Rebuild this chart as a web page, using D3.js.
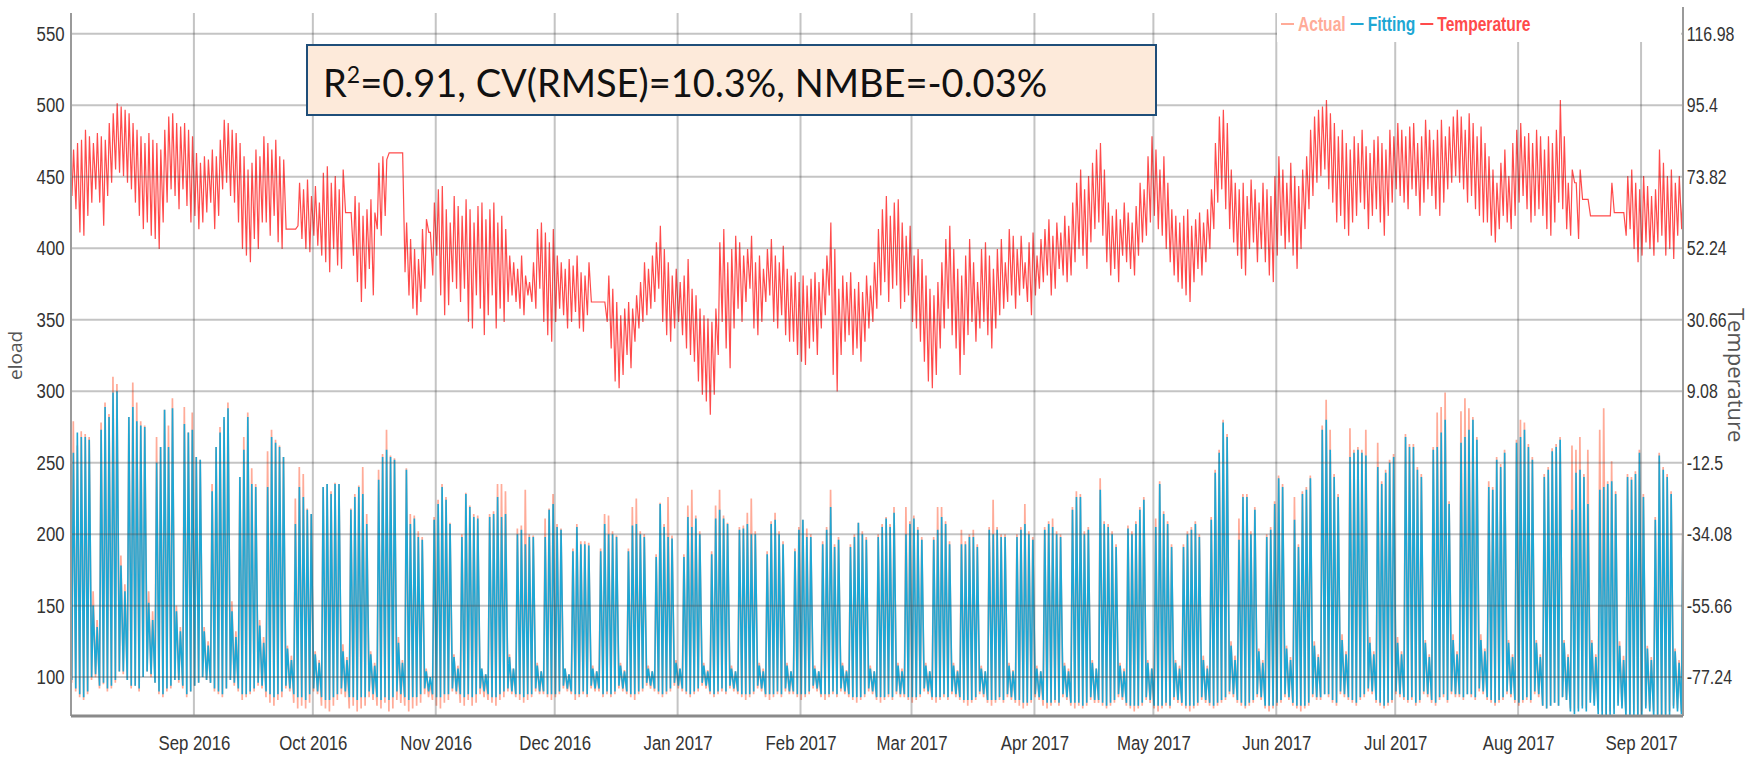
<!DOCTYPE html>
<html>
<head>
<meta charset="utf-8">
<script src="https://cdn.jsdelivr.net/npm/d3@7"></script>
<style>
  body { margin: 0; background: #fff; }
  .narrow { font-family: "Liberation Sans", Arial, sans-serif; }
</style>
</head>
<body>
<svg id="chart" width="1752" height="759"></svg>
<script>
// one value per day, starting Mon 1 Aug 2016, one row per week (Mon..Sun)
const startDay = new Date(2016, 7, 1);
const endTime = new Date(2017, 8, 11, 14);

const monthTicks = ["2016-09-01","2016-10-01","2016-11-01","2016-12-01","2017-01-01","2017-02-01",
  "2017-03-01","2017-04-01","2017-05-01","2017-06-01","2017-07-01","2017-08-01","2017-09-01"];
const loadTicks = [100, 150, 200, 250, 300, 350, 400, 450, 500, 550];
const tempTicks = [116.98, 95.4, 73.82, 52.24, 30.66, 9.08, -12.5, -34.08, -55.66, -77.24];

const actualPeak = [
  279,262,272,270,268,160,140, 278,292,284,310,305,185,165, 282,306,292,279,276,160,146,
  268,261,287,276,295,150,135, 289,271,285,254,252,135,125, 235,261,275,280,292,153,132,
  240,268,285,246,235,140,128, 258,273,266,262,254,122,115, 225,247,242,218,214,118,112,
  233,235,230,236,235,123,114, 218,228,234,247,214,118,110, 245,256,273,255,253,128,112,
  246,214,213,202,198,106,97,  212,224,235,226,208,116,108, 200,229,220,214,213,106,102,
  214,216,235,235,230,116,106, 204,206,231,200,199,110,104, 211,218,228,207,204,106,102,
  190,207,195,195,194,108,104, 190,214,213,202,199,110,105, 190,219,225,202,200,108,104,
  186,222,207,226,199,112,106, 186,220,231,213,202,110,105, 188,220,231,213,208,108,104,
  205,206,215,225,202,110,106, 188,209,215,202,195,110,104, 190,205,210,204,200,108,104,
  195,205,231,193,198,110,105, 193,200,208,202,198,108,104, 200,207,212,207,219,110,106,
  219,209,213,205,198,110,104, 198,219,219,209,195,110,105, 203,195,200,203,193,108,104,
  205,224,205,200,200,110,105, 200,205,221,202,198,108,104, 205,209,211,202,200,110,106,
  219,230,228,202,205,112,106, 239,209,207,202,193,110,106, 206,202,209,219,226,112,106,
  211,237,216,209,193,112,108, 193,202,205,209,200,115,108, 212,245,259,280,270,125,115,
  211,228,228,202,219,120,112, 200,205,223,241,235,122,114, 226,193,230,233,241,125,116,
  276,294,273,242,228,130,118, 274,259,261,259,273,128,118, 264,237,245,252,256,128,118,
  270,263,263,247,242,126,116, 261,285,289,299,223,130,118, 286,295,288,282,268,130,120,
  237,233,254,249,259,126,116, 266,280,278,263,254,126,116, 242,247,260,263,268,126,116,
  262,259,268,242,259,126,116, 273,288,237,251,230,125,115, 242,240,244,259,228,122,114,
  212,257,247,242,230,120,112, 233
];

const fitPeak = [
  257,271,268,268,266,150,135, 273,289,282,299,300,178,160, 282,289,279,276,275,152,140,
  250,261,287,261,288,146,132, 277,271,273,254,252,132,122, 230,261,271,282,288,146,128,
  240,259,282,235,233,136,124, 233,268,264,261,254,120,112, 207,233,226,217,214,116,110,
  233,235,228,235,235,118,112, 217,226,233,228,207,116,108, 238,254,259,254,252,124,110,
  245,207,211,198,196,104,100, 210,221,233,224,207,114,106, 198,228,219,212,211,106,102,
  212,214,226,212,214,114,106, 200,203,193,198,198,108,104, 198,217,221,205,203,106,102,
  188,205,193,193,192,106,104, 188,207,200,200,198,108,104, 188,206,207,200,198,106,104,
  184,221,205,198,197,110,106, 184,212,205,211,200,108,104, 186,211,217,211,207,106,104,
  203,204,207,200,200,108,104, 186,207,210,200,193,108,104, 188,203,210,198,198,106,104,
  193,203,219,191,196,108,104, 191,198,208,200,196,106,104, 198,205,211,205,215,108,104,
  200,207,211,203,196,108,104, 196,203,212,207,193,108,104, 193,193,198,198,191,106,104,
  203,200,203,198,198,108,104, 198,203,207,200,196,106,104, 203,207,205,200,198,108,104,
  217,226,226,200,203,110,106, 231,207,205,200,191,108,104, 204,200,207,217,224,110,106,
  205,235,214,207,191,110,106, 191,200,203,207,198,112,106, 210,243,257,278,268,122,112,
  196,226,226,200,217,118,110, 198,203,221,239,233,120,112, 210,191,228,231,239,122,114,
  273,280,259,240,226,126,116, 254,257,259,257,255,124,116, 247,235,243,250,254,124,116,
  268,261,261,245,240,124,114, 259,261,271,280,221,126,116, 264,268,273,280,266,126,118,
  233,231,252,247,257,124,114, 264,268,273,261,252,124,114, 240,245,258,261,266,124,114,
  217,243,245,240,221,124,114, 231,233,235,237,228,122,112, 240,238,242,257,226,120,112,
  210,255,245,240,228,118,110, 231
];

const actualLow = [
  96,90,86,84,88,98,100, 92,95,90,92,96,104,102, 98,92,94,90,100,104,100, 96,88,86,90,92,98,96,
  92,86,90,94,96,100,98, 96,90,88,86,92,98,94, 90,84,86,88,90,94,92, 86,82,80,84,86,92,90,
  82,78,80,78,82,90,88, 80,78,76,80,84,88,86, 78,80,76,78,80,86,84, 80,78,82,76,78,84,82,
  80,76,78,80,82,88,86, 84,80,78,82,84,90,88, 82,80,84,80,82,88,86, 84,82,80,84,86,90,88,
  86,84,82,84,86,90,88, 88,86,84,86,88,92,90, 88,84,86,88,86,92,90, 90,86,88,86,88,92,90,
  88,86,84,88,90,94,92, 90,88,86,88,90,94,92, 90,88,86,88,90,94,92, 88,86,88,90,88,92,90,
  88,86,84,86,88,92,90, 86,84,86,88,86,90,88, 88,86,84,86,88,92,90, 86,84,86,88,86,90,88,
  86,84,82,84,86,90,88, 84,82,84,86,84,88,86, 86,84,82,84,86,90,88, 84,82,84,86,84,88,86,
  84,82,80,82,84,88,86, 82,80,82,84,82,86,84, 82,80,78,80,82,86,84, 80,78,80,82,80,86,84,
  80,78,80,78,80,84,82, 82,80,78,80,82,86,84, 80,78,76,78,80,84,82, 78,76,78,80,78,84,82,
  80,78,76,78,80,84,82, 80,78,80,82,84,88,86, 82,80,78,80,82,86,84, 78,76,78,80,82,86,84,
  80,78,76,78,80,86,84, 84,88,86,82,80,88,86, 84,82,80,84,86,90,88, 82,80,78,80,82,88,86,
  84,82,84,80,82,88,86, 82,80,84,86,82,88,86, 86,84,88,86,84,90,88, 84,82,80,82,84,88,86,
  82,80,82,84,82,88,86, 80,78,80,82,80,86,84, 78,76,78,80,78,84,82, 78,76,74,76,78,82,80,
  76,74,76,74,76,80,78, 76,74,72,74,76,80,78, 76
];

const fitLow = [
  98,92,88,86,90,100,102, 94,96,92,94,98,104,104, 98,94,94,92,100,104,102, 96,90,88,92,94,98,98,
  94,88,90,94,96,100,98, 96,92,90,88,92,98,96, 92,88,88,90,92,96,94, 90,88,86,88,90,94,92,
  88,86,86,84,88,92,90, 86,84,84,86,88,92,90, 86,86,84,86,86,90,88, 86,84,86,84,86,90,88,
  86,84,86,86,88,92,90, 88,86,86,88,88,92,90, 88,86,88,86,88,92,90, 88,86,86,88,90,92,90,
  88,88,86,88,88,92,90, 90,88,88,88,90,94,92, 90,88,88,90,88,94,92, 92,88,90,88,90,94,92,
  90,88,88,90,92,96,94, 92,90,88,90,92,96,94, 92,90,88,90,92,96,94, 90,88,90,92,90,94,92,
  90,88,88,88,90,94,92, 88,88,88,90,88,92,90, 90,88,88,88,90,94,92, 88,88,88,90,88,92,90,
  88,86,86,86,88,92,90, 86,86,86,88,86,90,88, 88,86,86,86,88,92,90, 86,86,86,88,86,90,88,
  86,84,84,84,86,90,88, 84,84,84,86,84,88,86, 84,84,82,82,84,88,86, 84,82,82,84,82,88,86,
  82,82,82,80,82,86,84, 84,82,80,82,84,88,86, 82,80,80,80,82,86,84, 80,80,80,82,80,86,84,
  82,80,80,80,82,86,84, 82,80,82,84,86,90,88, 84,82,80,82,84,88,86, 80,80,80,82,84,88,86,
  82,80,80,80,82,88,86, 86,88,88,84,82,90,88, 86,84,82,86,88,92,90, 84,82,80,82,84,90,88,
  86,84,86,82,84,90,88, 84,82,86,88,84,90,88, 88,86,88,88,86,92,90, 86,84,82,84,86,90,88,
  84,82,84,86,84,90,88, 80,78,80,82,80,86,84, 76,74,76,78,76,82,80, 74,72,70,72,74,80,78,
  72,70,72,70,72,78,76, 72,70,68,70,72,78,76, 74
];

const tempHigh = [
  82,84,85,88,86,84,87, 86,85,90,93,96,95,94, 93,90,88,86,84,87,85, 84,82,88,92,93,90,89,
  90,88,86,81,78,80,79, 82,80,85,91,90,88,87, 84,80,76,78,82,80,86, 84,82,85,80,79,58,58,
  58,72,70,73,68,71,66, 75,77,72,74,70,76,63, 63,68,66,62,64,67,63, 78,80,79,81,81,81,81,
  60,55,52,49,58,61,57, 66,70,71,64,60,68,65, 62,67,64,60,65,66,61, 64,66,60,62,58,50,48,
  46,50,44,42,48,58,60, 57,54,58,50,48,46,49, 47,50,45,44,48,36,36, 36,36,44,40,36,32,34,
  36,34,38,42,48,46,50, 54,59,52,48,44,46,42, 44,49,40,38,34,32,31, 30,34,54,58,48,52,56,
  54,50,52,56,48,50,46, 52,55,50,48,53,46,44, 45,42,44,41,43,45,42, 46,50,60,52,40,44,42,
  45,40,42,39,44,41,48, 58,64,68,62,66,67,60, 56,59,50,52,49,44,40, 38,42,48,55,59,52,46,
  44,50,55,48,42,52,54, 50,46,52,55,48,58,56, 52,56,48,54,57,50,55, 58,61,56,60,57,62,59,
  66,72,76,70,74,78,82, 84,76,66,62,64,61,66, 63,60,65,72,70,80,86, 82,76,80,72,64,62,60,
  62,64,59,61,63,60,64, 70,84,92,94,90,76,72, 70,72,68,73,70,66,72, 70,68,74,80,76,72,78,
  74,71,76,80,88,92,94, 95,97,93,90,86,88,84, 82,86,84,88,83,81,85, 86,84,82,88,86,90,88,
  86,89,90,84,86,91,88, 85,88,91,86,89,92,94, 92,88,93,90,86,89,84, 80,76,72,78,82,74,84,
  88,90,86,87,84,88,86, 82,86,84,88,97,86,72, 76,72,76,67,67,62,62, 62,62,62,72,63,63,63,
  74,76,72,70,74,71,68, 70,82,78,74,76,72,74, 72
];

const tempLow = [
  68,64,57,56,62,66,70, 66,59,68,72,76,75,74, 72,70,66,62,58,60,56, 55,52,60,66,70,68,64,
  70,65,60,62,58,60,63, 66,58,62,70,72,68,66, 60,52,50,48,55,52,60, 60,56,62,54,52,58,58,
  58,59,55,52,51,56,53, 50,48,45,52,47,46,63, 63,50,42,36,40,46,38, 58,56,62,81,81,81,81,
  45,38,34,32,36,40,57, 44,50,38,32,35,42,40, 36,40,30,28,38,34,26, 32,38,28,34,30,36,38,
  36,34,32,38,36,34,40, 30,26,24,30,34,32,28, 30,33,28,27,32,36,36, 36,36,30,22,12,10,14,
  20,16,24,28,30,32,34, 36,40,30,26,24,28,30, 26,22,20,18,12,8,6,   2,8,20,30,22,16,28,
  34,30,36,40,28,26,30, 36,38,30,28,32,26,24, 24,20,18,17,22,24,20, 28,32,38,14,9,20,24,
  26,20,22,18,24,28,30, 34,38,42,36,40,41,34, 36,38,30,28,24,18,12, 10,14,22,28,34,26,22,
  14,20,26,30,24,28,30, 26,22,28,32,34,36,38, 34,38,40,36,32,38,40, 42,44,38,40,46,44,42,
  44,48,52,50,46,54,58, 60,56,48,44,46,42,50, 48,46,44,50,54,56,60, 62,58,56,52,48,44,42,
  40,38,36,42,46,44,48, 52,58,66,70,64,58,54, 50,46,44,52,54,48,52, 48,44,42,50,56,52,54,
  50,46,52,58,64,68,72, 74,76,70,66,60,62,58, 56,60,62,66,64,58,62, 64,60,56,62,66,70,68,
  66,64,70,68,62,66,70, 68,64,62,66,70,72,74, 72,70,66,68,64,62,60, 60,56,54,58,62,60,58,
  62,66,68,64,60,62,64, 62,58,56,60,66,64,58, 56,72,55,67,67,62,62, 62,62,62,62,63,63,63,
  56,58,52,48,50,54,52, 50,54,56,50,52,49,56, 58
];

const seriesColors = { actual: "#ffab98", fitting: "#1ea7d4", temperature: "#ff4b4b" };
const legendItems = [
  { name: "Actual", color: seriesColors.actual },
  { name: "Fitting", color: seriesColors.fitting },
  { name: "Temperature", color: seriesColors.temperature }
];

// the original uses a condensed face; squeeze a regular one instead
const squeeze = 0.8;

function drawChart() {
  const svg = d3.select("#chart");
  const plot = { left: 71, right: 1683, top: 13, bottom: 715 };

  const x = d3.scaleTime().domain([startDay, endTime]).range([plot.left, plot.right]);
  const y = d3.scaleLinear().domain([73.5, 564.5]).range([plot.bottom, plot.top]);
  // right axis is a linear re-labelling of the left one
  const loadToTemp = v => 116.98 - (550 - v) * 21.58 / 50;
  const yTemp = d3.scaleLinear()
    .domain([loadToTemp(73.5), loadToTemp(564.5)])
    .range([plot.bottom, plot.top]);

  const dayTime = (i, frac) => new Date(startDay.getTime() + (i + frac) * 864e5);

  // daily low/high pairs -> zigzag points
  function zigzag(lows, highs, lowAt, highAt) {
    const pts = [];
    lows.forEach((lo, i) => {
      pts.push({ t: dayTime(i, lowAt), v: lo });
      pts.push({ t: dayTime(i, highAt), v: highs[i] });
    });
    return pts;
  }

  svg.append("defs").append("clipPath").attr("id", "plotClip")
    .append("rect")
    .attr("x", plot.left).attr("y", plot.top)
    .attr("width", plot.right - plot.left).attr("height", plot.bottom - plot.top);

  const layer = svg.append("g").attr("clip-path", "url(#plotClip)");

  const loadLine = d3.line().x(d => x(d.t)).y(d => y(d.v));
  const tempLine = d3.line().x(d => x(d.t)).y(d => yTemp(d.v));

  layer.append("path")
    .datum(zigzag(actualLow, actualPeak, 0.18, 0.58))
    .attr("d", loadLine)
    .attr("fill", "none")
    .attr("stroke", seriesColors.actual)
    .attr("stroke-width", 1.7);

  layer.append("path")
    .datum(zigzag(fitLow, fitPeak, 0.2, 0.6))
    .attr("d", loadLine)
    .attr("fill", "none")
    .attr("stroke", seriesColors.fitting)
    .attr("stroke-width", 1.6);

  layer.append("path")
    .datum(zigzag(tempLow, tempHigh, 0.25, 0.65))
    .attr("d", tempLine)
    .attr("fill", "none")
    .attr("stroke", seriesColors.temperature)
    .attr("stroke-width", 1.2);

  // grid on top, semi transparent like the original
  const grid = svg.append("g").attr("stroke", "rgba(70,70,70,0.32)").attr("stroke-width", 2);
  loadTicks.forEach(v => {
    grid.append("line")
      .attr("x1", plot.left).attr("x2", plot.right)
      .attr("y1", y(v)).attr("y2", y(v));
  });
  monthTicks.forEach(m => {
    const xm = x(new Date(m + "T00:00:00"));
    grid.append("line")
      .attr("x1", xm).attr("x2", xm)
      .attr("y1", plot.top).attr("y2", plot.bottom);
  });

  // axis frame
  svg.append("line").attr("x1", plot.left).attr("x2", plot.left)
    .attr("y1", plot.top).attr("y2", plot.bottom + 1)
    .attr("stroke", "#9a9a9a").attr("stroke-width", 2);
  svg.append("line").attr("x1", plot.right).attr("x2", plot.right)
    .attr("y1", 7).attr("y2", plot.bottom + 1)
    .attr("stroke", "#9a9a9a").attr("stroke-width", 2);
  svg.append("line").attr("x1", plot.left).attr("x2", plot.right)
    .attr("y1", plot.bottom + 1).attr("y2", plot.bottom + 1)
    .attr("stroke", "#8a8a8a").attr("stroke-width", 3);

  // axes
  const leftAxis = svg.append("g").attr("class", "narrow")
    .attr("transform", `translate(${plot.left},0)`)
    .call(d3.axisLeft(y).tickValues(loadTicks).tickSize(0).tickPadding(8));
  const rightAxis = svg.append("g").attr("class", "narrow")
    .attr("transform", `translate(${plot.right},0)`)
    .call(d3.axisRight(yTemp).tickValues(tempTicks).tickFormat(d => String(d)).tickSize(0).tickPadding(5));
  const bottomAxis = svg.append("g").attr("class", "narrow")
    .attr("transform", `translate(0,${plot.bottom})`)
    .call(d3.axisBottom(x)
      .tickValues(monthTicks.map(m => new Date(m + "T00:00:00")))
      .tickFormat(d3.timeFormat("%b %Y"))
      .tickSize(0).tickPadding(20));

  [leftAxis, rightAxis, bottomAxis].forEach(g => {
    g.select(".domain").remove();
    g.selectAll("text")
      .attr("font-family", null)
      .attr("transform", `scale(${g === rightAxis ? 0.76 : squeeze},1)`)
      .style("font-size", "21px")
      .style("fill", "#333");
  });

  // axis titles
  svg.append("text")
    .attr("transform", `translate(22,${(y(300) + y(350)) / 2}) rotate(-90)`)
    .attr("text-anchor", "middle")
    .style("font-family", "'Open Sans', sans-serif")
    .style("font-size", "19px")
    .style("fill", "#555")
    .text("eload");
  svg.append("text")
    .attr("transform", `translate(1728,${y(300) - 16}) rotate(90)`)
    .attr("text-anchor", "middle")
    .style("font-family", "'Open Sans', sans-serif")
    .style("font-size", "22px")
    .style("fill", "#555")
    .text("Temperature");

  // legend (white patch hides grid behind it)
  svg.append("rect").attr("x", 1277).attr("y", 0).attr("width", 404).attr("height", 42).attr("fill", "#fff");
  const legend = svg.append("g").attr("class", "narrow").attr("transform", "translate(1281,25)");
  let lx = 0;
  legendItems.forEach(item => {
    legend.append("line")
      .attr("x1", lx).attr("x2", lx + 13).attr("y1", -1).attr("y2", -1)
      .attr("stroke", item.color).attr("stroke-width", 2);
    const t = legend.append("text")
      .attr("transform", `translate(${lx + 17},6) scale(0.78,1)`)
      .style("font-size", "20px").style("font-weight", "bold")
      .style("fill", item.color)
      .text(item.name);
    lx += 17 + t.node().getComputedTextLength() * 0.78 + 5;
  });

  // annotation box
  const box = svg.append("g");
  box.append("rect")
    .attr("x", 307).attr("y", 45).attr("width", 849).attr("height", 70)
    .attr("fill", "#fdeada").attr("stroke", "#1f4e79").attr("stroke-width", 2);
  const note = box.append("text")
    .attr("x", 323).attr("y", 97)
    .style("font-family", "Lato, 'Open Sans', sans-serif")
    .style("font-size", "38px")
    .style("fill", "#111");
  note.append("tspan").text("R");
  note.append("tspan").attr("dy", -14).style("font-size", "23px").text("2");
  note.append("tspan").attr("dy", 14).text("=0.91, CV(RMSE)=10.3%, NMBE=-0.03%");
}

drawChart();
</script>
</body>
</html>
